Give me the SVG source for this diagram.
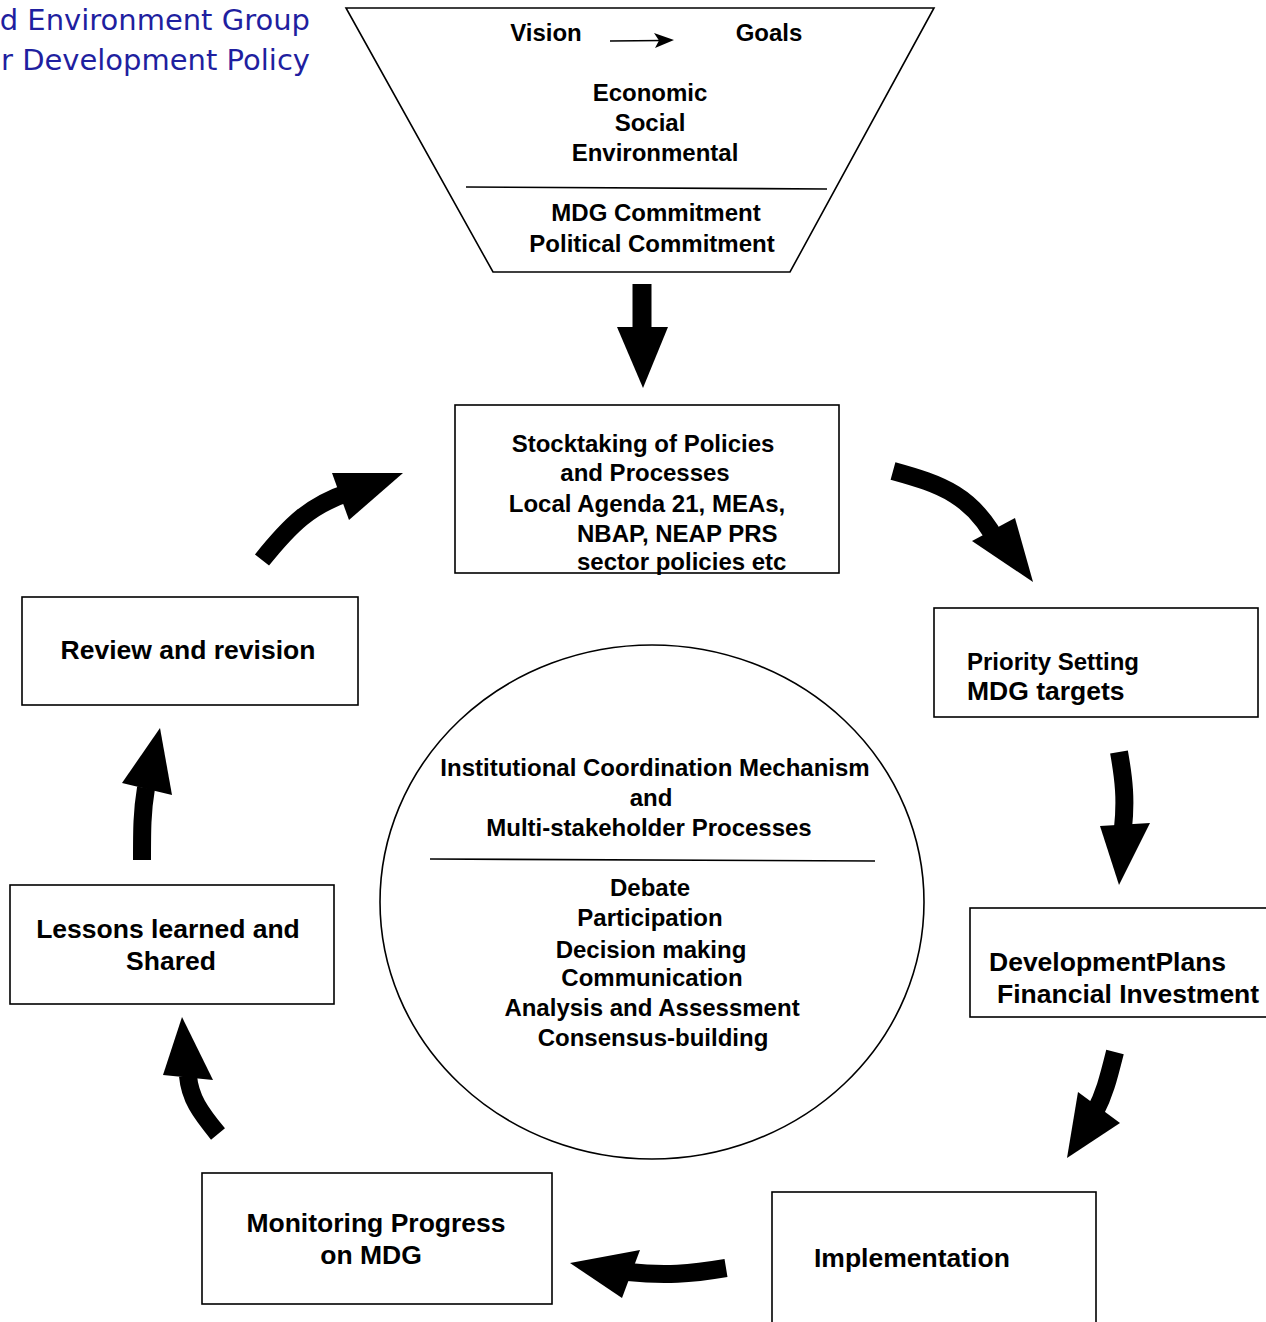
<svg xmlns="http://www.w3.org/2000/svg" width="1266" height="1322" viewBox="0 0 1266 1322">
<defs>
<style>
.t{font-family:"Liberation Sans",Arial,sans-serif;font-weight:bold;font-size:24px;fill:#000}
.b{font-size:26.5px}
.c{text-anchor:middle}
.box{fill:#fff;stroke:#000;stroke-width:1.6}
.ln{stroke:#000;stroke-width:1.6;fill:none}
.sh{fill:none;stroke:#000;stroke-width:18}
.hd{fill:#000}
.cm{font-family:"DejaVu Sans",sans-serif;font-size:29px;fill:#1f1fa0;text-anchor:end}
</style>
</defs>
<rect width="1266" height="1322" fill="#fff"/>
<g id="title">
<text class="cm" x="310" y="30">d Environment Group</text>
<text class="cm" x="310" y="70">r Development Policy</text>
</g>
<g id="funnel">
<polygon class="box" points="346,8 934,8 790,272 493,272"/>
<line class="ln" x1="466" y1="187" x2="827" y2="189"/>
<text class="t c" x="546" y="41">Vision</text>
<text class="t c" x="769" y="41">Goals</text>
<line class="ln" x1="610" y1="41" x2="662" y2="40.5"/>
<polygon class="hd" points="654,33 674,40 655,48 659,40.5"/>
<text class="t c" x="650" y="101">Economic</text>
<text class="t c" x="650" y="131">Social</text>
<text class="t c" x="655" y="161">Environmental</text>
<text class="t c" x="656" y="221">MDG Commitment</text>
<text class="t c" x="652" y="252">Political Commitment</text>
</g>
<g id="stocktaking">
<rect class="box" x="455" y="405" width="384" height="168"/>
<text class="t c" x="643" y="452">Stocktaking of Policies</text>
<text class="t c" x="645" y="481">and Processes</text>
<text class="t c" x="647" y="512">Local Agenda 21, MEAs,</text>
<text class="t" x="577" y="542">NBAP, NEAP PRS</text>
<text class="t" x="577" y="570">sector policies etc</text>
</g>
<g id="review">
<rect class="box" x="22" y="597" width="336" height="108"/>
<text class="t c b" x="188" y="659">Review and revision</text>
</g>
<g id="priority">
<rect class="box" x="934" y="608" width="324" height="109"/>
<text class="t" x="967" y="670">Priority Setting</text>
<text class="t b" x="967" y="700">MDG targets</text>
</g>
<g id="devplans">
<rect class="box" x="970" y="908" width="310" height="109"/>
<text class="t b" x="989" y="971">DevelopmentPlans</text>
<text class="t b" x="997" y="1003">Financial Investment</text>
</g>
<g id="implementation">
<rect class="box" x="772" y="1192" width="324" height="150"/>
<text class="t b" x="814" y="1267">Implementation</text>
</g>
<g id="monitoring">
<rect class="box" x="202" y="1173" width="350" height="131"/>
<text class="t c b" x="376" y="1232">Monitoring Progress</text>
<text class="t c b" x="371" y="1264">on MDG</text>
</g>
<g id="lessons">
<rect class="box" x="10" y="885" width="324" height="119"/>
<text class="t c b" x="168" y="938">Lessons learned and</text>
<text class="t c b" x="171" y="970">Shared</text>
</g>
<g id="coordination">
<ellipse class="box" cx="652" cy="902" rx="272" ry="257"/>
<line class="ln" x1="430" y1="859" x2="875" y2="861"/>
<text class="t c" x="655" y="776">Institutional Coordination Mechanism</text>
<text class="t c" x="651" y="806">and</text>
<text class="t c" x="649" y="836">Multi-stakeholder Processes</text>
<text class="t c" x="650" y="896">Debate</text>
<text class="t c" x="650" y="926">Participation</text>
<text class="t c" x="651" y="958">Decision making</text>
<text class="t c" x="652" y="986">Communication</text>
<text class="t c" x="652" y="1016">Analysis and Assessment</text>
<text class="t c" x="653" y="1046">Consensus-building</text>
</g>
<g id="connectors">
<path class="sh" d="M642,284 L642,332" style="stroke-width:19"/>
<polygon class="hd" points="617,327 668,327 643,388"/>
<path class="sh" d="M893,471 C940,484 975,495 1000,548"/>
<polygon class="hd" points="972,541 1015,518 1033,582"/>
<path class="sh" d="M1119,752 C1124,780 1126,800 1123,828"/>
<polygon class="hd" points="1100,826 1150,823 1119,885"/>
<path class="sh" d="M1115,1052 C1108,1080 1104,1095 1095,1112"/>
<polygon class="hd" points="1078,1092 1120,1123 1067,1158"/>
<path class="sh" d="M726,1268 C690,1274 665,1276 628,1272"/>
<polygon class="hd" points="640,1250 622,1298 570,1263"/>
<path class="sh" d="M218,1134 C200,1112 190,1098 188,1076"/>
<polygon class="hd" points="163,1075 213,1080 182,1017"/>
<path class="sh" d="M142,860 C142,830 142,812 146,788"/>
<polygon class="hd" points="122,783 172,795 160,728"/>
<path class="sh" d="M262,560 C290,525 310,505 350,492"/>
<polygon class="hd" points="332,473 403,473 349,520"/>
</g>
</svg>
